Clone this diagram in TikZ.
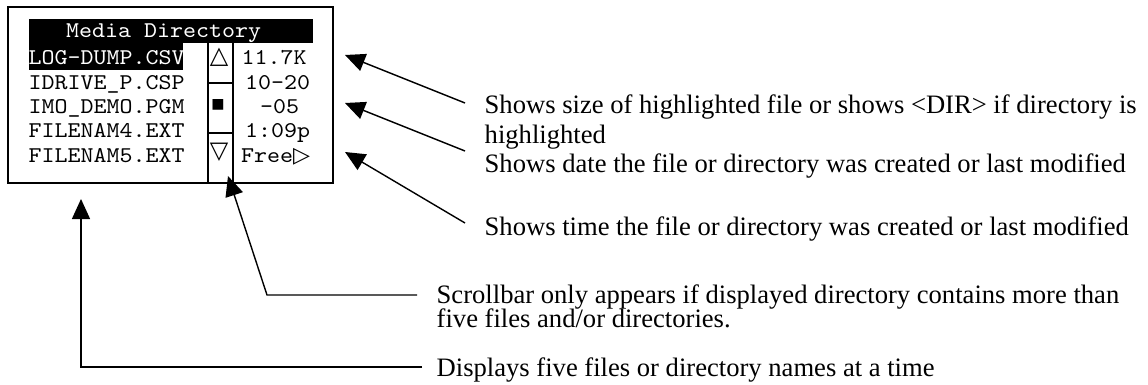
\documentclass[tikz,border=0pt]{standalone}
\usepackage{fontspec}
\setmainfont{Liberation Serif}
\newfontfamily\lcdfont[FakeStretch=1.1]{lmmono10-regular.otf}
\newfontfamily\glyphfont{DejaVu Sans}
\usetikzlibrary{arrows.meta}

\begin{document}
\begin{tikzpicture}[x=1pt,y=-1pt,
  frame/.style={draw=black,line width=2pt},
  rule/.style={draw=black,line width=1.8pt},
  lcd/.style={font=\lcdfont\fontsize{22.5}{24}\selectfont,inner sep=0pt,anchor=base west},
  lcdinv/.style={lcd,text=white},
  glyph/.style={font=\glyphfont\fontsize{24}{26}\selectfont,inner sep=0pt},
  note/.style={font=\fontsize{26.6}{29.7}\selectfont,inner sep=0pt,anchor=base west},
  callout/.style={line width=1.4pt,-{Triangle[length=20pt,width=18pt]}},
]
% canvas
\useasboundingbox (0,0) rectangle (1148,385);
\fill[white] (0,0) rectangle (1148,385);

% ---- screen ----
\draw[frame] (8,7.5) rectangle (333,182.5);
% inverted title bar and selected entry
\fill[black] (29,19) rectangle (313,43);
\fill[black] (29,42) rectangle (183,70);
\node[lcdinv] (title) at (66,37.3) {Media Directory};

% file list
\node[lcdinv] (row1) at (28.5,65)   {LOG-DUMP.CSV};
\node[lcd]    (row2) at (28.5,89.3)  {IDRIVE\_P.CSP};
\node[lcd]    (row3) at (28.5,113.3) {IMO\_DEMO.PGM};
\node[lcd]    (row4) at (28.5,137.3) {FILENAM4.EXT};
\node[lcd]    (row5) at (28.5,162.3) {FILENAM5.EXT};

% scrollbar column
\draw[rule] (208.3,43) -- (208.3,182.5);
\draw[rule] (233.3,43) -- (233.3,182.5);
\draw[rule] (208.3,82.7) -- (233.3,82.7);
\draw[rule] (208.3,133.3) -- (233.3,133.3);
\node[glyph] (up)    at (219,57.5)  {△};
\node[glyph,font=\glyphfont\fontsize{14}{15}\selectfont] (thumb) at (218,104.5) {■};
\node[glyph] (down)  at (219,152.5) {▽};

% file details column
\node[lcd] (size) at (241.5,65)   {11.7K};
\node[lcd] (date) at (245,89.3)   {10-20};
\node[lcd,anchor=base] (day) at (279.5,113.3) {-05};
\node[lcd] (time) at (245,137.3)  {1:09p};
\node[lcd] (free) at (241,162.3)  {Free{\glyphfont\fontsize{22}{24}\selectfont ▷}};

% ---- notes ----
\node[note] (sizeA) at (484.5,113.3) {Shows size of highlighted file or shows <DIR> if directory is};
\node[note] (sizeB) at (484.5,143)   {highlighted};
\node[note] (dateN) at (484.5,172.7) {Shows date the file or directory was created or last modified};
\node[note] (timeN) at (484.5,235)   {Shows time the file or directory was created or last modified};
\node[note] (scrA)  at (436.5,303.5) {Scrollbar only appears if displayed directory contains more than};
\node[note] (scrB)  at (436.5,327.5) {five files and/or directories.};
\node[note] (listN) at (436.5,376)   {Displays five files or directory names at a time};

% ---- callouts ----
\coordinate (sizeFrom)   at (465,103);
\coordinate (sizeTip)    at (345,55);
\coordinate (dateFrom)   at (465,151);
\coordinate (dateTip)    at (345,103);
\coordinate (timeFrom)   at (465,223);
\coordinate (timeTip)    at (345,152);
\coordinate (scrFrom)    at (417,295);
\coordinate (scrKnee)    at (267,295);
\coordinate (scrTip)     at (228,176);
\coordinate (listFrom)   at (422,367);
\coordinate (listKnee)   at (81,367);
\coordinate (listTip)    at (81,199);

\draw[callout] (sizeFrom) -- (sizeTip);
\draw[callout] (dateFrom) -- (dateTip);
\draw[callout] (timeFrom) -- (timeTip);
\draw[callout] (scrFrom) -- (scrKnee) -- (scrTip);
\draw[callout] (listFrom) -- (listKnee) -- (listTip);
\end{tikzpicture}
\end{document}
